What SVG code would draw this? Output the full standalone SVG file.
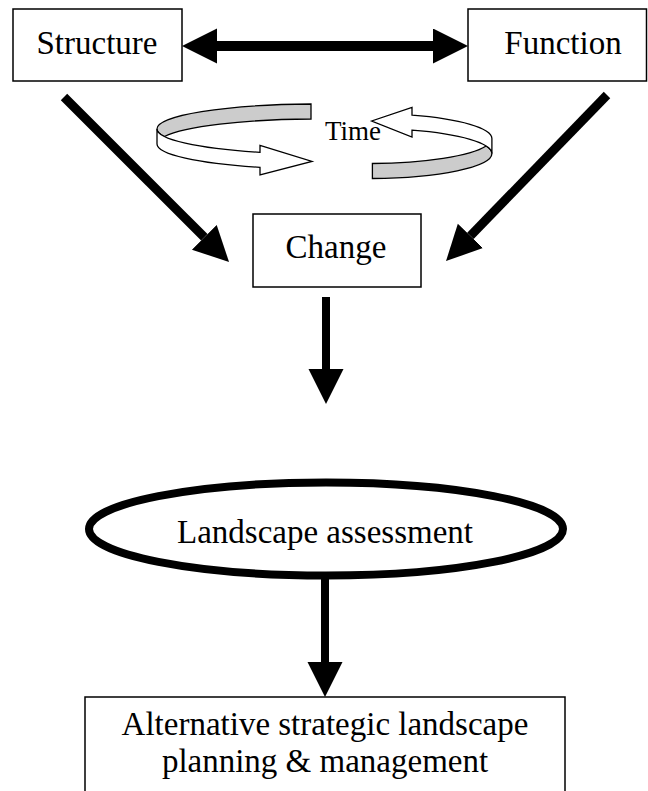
<svg xmlns="http://www.w3.org/2000/svg" width="648" height="791" viewBox="0 0 648 791">
<style>
.box{fill:#fff;stroke:#000;stroke-width:1.5}
.lbl{font-family:"Liberation Serif","Times New Roman",serif;font-size:33px;text-anchor:middle;fill:#000}
.conn{stroke:#000;fill:none}
.rib{stroke:#000;stroke-width:1.3;stroke-linejoin:miter}
.gray{fill:#cccccc}
.white{fill:#fff}
</style>
<defs>
<marker id="ah" markerUnits="userSpaceOnUse" markerWidth="36" markerHeight="36" refX="0" refY="17.5" orient="auto-start-reverse" viewBox="0 0 36 36">
<path d="M0,0 L35,17.5 L0,35 Z" fill="#000"/>
</marker>
</defs>
<rect width="648" height="791" fill="#fff"/>
<g id="connectors">
<path class="conn" d="M217,46 L433,46" stroke-width="10" marker-start="url(#ah)" marker-end="url(#ah)"/>
<path class="conn" d="M64,97 L204.3,237.3" stroke-width="9" marker-end="url(#ah)"/>
<path class="conn" d="M607,95 L470.4,235.9" stroke-width="9" marker-end="url(#ah)"/>
<path class="conn" d="M326,297 L326,369" stroke-width="8" marker-end="url(#ah)"/>
<path class="conn" d="M325,578 L325,662" stroke-width="8" marker-end="url(#ah)"/>
</g>
<g id="time">
<path class="rib gray" d="M311,104 A161,25 0 0 0 157,129 A161,25 0 0 0 164.4,136.5 A161,25 0 0 1 311,119 Z"/>
<path class="rib white" d="M157,129 A161,25 0 0 0 260,152.3 L260,145.5 L312,161.5 L260,175 L260,167.3 A161,25 0 0 1 157,144 Z"/>
<path class="rib gray" d="M372.4,178.5 A124.9,25 0 0 0 491.9,153.5 A124.9,25 0 0 0 486.2,146 A124.9,25 0 0 1 372.4,163.5 Z"/>
<path class="rib white" d="M491.9,153.5 A124.9,25 0 0 0 412,130.2 L412,137 L371.7,121 L412,107.5 L412,115.2 A124.9,25 0 0 1 491.9,138.5 Z"/>
<text class="lbl" x="353" y="140" style="font-size:27px">Time</text>
</g>
<g id="structure">
<rect class="box" x="13" y="9" width="169" height="72"/>
<text class="lbl" x="97" y="54">Structure</text>
</g>
<g id="function">
<rect class="box" x="468" y="9" width="178.5" height="72"/>
<text class="lbl" x="563" y="54">Function</text>
</g>
<g id="change">
<rect class="box" x="253" y="214" width="168" height="73"/>
<text class="lbl" x="336" y="258">Change</text>
</g>
<g id="assessment">
<ellipse cx="326" cy="529" rx="237" ry="46.5" fill="#fff" stroke="#000" stroke-width="8"/>
<text class="lbl" x="325" y="543">Landscape assessment</text>
</g>
<g id="planning">
<rect class="box" x="85" y="697" width="480" height="110"/>
<text class="lbl" x="325" y="735">Alternative strategic landscape</text>
<text class="lbl" x="325" y="772">planning &amp; management</text>
</g>
</svg>
